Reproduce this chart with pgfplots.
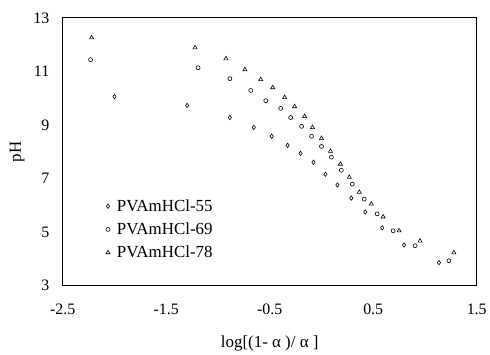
\documentclass[border=0pt]{standalone}
\usepackage{fontspec}
\setmainfont{Liberation Serif}
\usepackage{pgfplots}
\pgfplotsset{compat=1.18}
\begin{document}
\begin{tikzpicture}
\begin{axis}[
  at={(0pt,0pt)}, anchor=south west,
  scale only axis,
  width=416pt, height=269pt,
  xmin=-2.5, xmax=1.5, ymin=3, ymax=13,
  xtick={-2.5,-1.5,-0.5,0.5,1.5},
  ytick={3,5,7,9,11,13},
  xticklabels={-2.5,-1.5,-0.5,0.5,1.5},
  major tick length=0pt,
  axis line style={black, line width=0.9pt},
  /pgf/number format/assume math mode=true,
  tick label style={font=\fontsize{16}{16}\selectfont},
  xticklabel style={yshift=-15pt},
  yticklabel style={xshift=-10pt},
  label style={font=\fontsize{17}{17}\selectfont},
  xlabel={log[(1- α )/ α ]},
  ylabel={pH},
  xlabel style={yshift=-14pt},
  ylabel style={yshift=2pt},
  legend style={draw=none, fill=none, at={(0.104,0.21)}, anchor=west,
    font=\fontsize{17}{17}\selectfont, row sep=6pt, inner sep=0pt},
  legend cell align=left,
  legend image code/.code={\path[draw=none] (-2pt,0pt) -- (7pt,0pt); \draw[#1] plot coordinates {(0pt,0pt)};},
]
\addplot[only marks, mark=diamond, mark size=2.2pt, black, line width=0.6pt] coordinates {
(-2.000,10.06) (-1.298,9.73) (-0.885,9.28) (-0.654,8.91) (-0.481,8.58)
(-0.327,8.24) (-0.202,7.94) (-0.077,7.61) (0.038,7.16) (0.154,6.76)
(0.288,6.27) (0.423,5.75) (0.587,5.16) (0.798,4.52) (1.135,3.86)
};
\addlegendentry{PVAmHCl-55}
\addplot[only marks, mark=o, mark size=2pt, black, line width=0.6pt] coordinates {
(-2.231,11.44) (-1.192,11.14) (-0.885,10.73) (-0.683,10.29) (-0.538,9.91)
(-0.394,9.62) (-0.298,9.28) (-0.192,8.95) (-0.096,8.58) (0.000,8.20)
(0.096,7.80) (0.192,7.31) (0.298,6.79) (0.413,6.23) (0.538,5.68)
(0.692,5.05) (0.904,4.49) (1.231,3.93)
};
\addlegendentry{PVAmHCl-69}
\addplot[only marks, mark=triangle, mark size=2.4pt, black, line width=0.6pt] coordinates {
(-2.221,12.26) (-1.221,11.89) (-0.923,11.48) (-0.740,11.07) (-0.587,10.70)
(-0.471,10.40) (-0.356,10.03) (-0.260,9.69) (-0.163,9.32) (-0.087,8.91)
(0.000,8.50) (0.087,8.02) (0.183,7.54) (0.269,7.05) (0.365,6.49)
(0.481,6.05) (0.596,5.57) (0.750,5.05) (0.952,4.67) (1.279,4.23)
};
\addlegendentry{PVAmHCl-78}
\end{axis}
\useasboundingbox (-63pt,-66pt) rectangle (427pt,287pt);
\end{tikzpicture}
\end{document}
